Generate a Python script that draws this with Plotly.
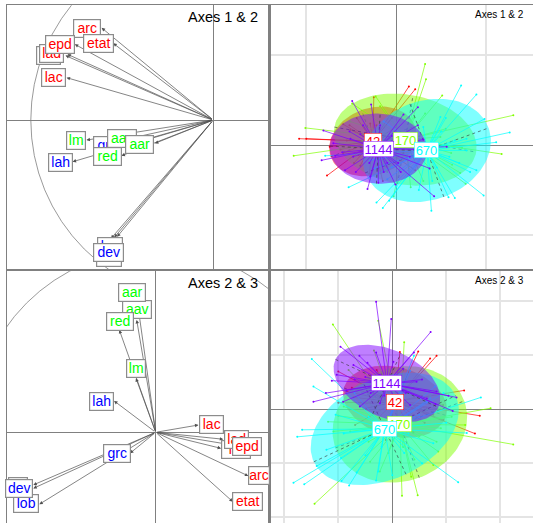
import numpy as np
import plotly.graph_objects as go

W, H = 533, 523

# ---------- variable loadings ----------
var_names = ["lob", "lon", "dev", "lah", "lm", "grc", "aav", "aar", "red", "lat", "lad", "lac", "arc", "etat", "epd"]
var_colors = ["#0000FF"] * 3 + ["#0000FF", "#00FF00", "#0000FF", "#00FF00", "#00FF00", "#00FF00"] + ["#FF0000"] * 6
var_widths = [26, 26, 31, 25, 20, 28, 30, 29, 29, 25, 25, 25, 28, 31, 30]

tip12_x = [-0.527, -0.543, -0.561, -0.771, -0.695, -0.539, -0.415, -0.320, -0.503, -0.810, -0.799, -0.804, -0.612, -0.548, -0.759]
tip12_y = [-0.640, -0.644, -0.650, -0.229, -0.110, -0.119, -0.119, -0.128, -0.196, 0.353, 0.360, 0.232, 0.505, 0.420, 0.415]
lab12_x = [-0.572, -0.567, -0.574, -0.839, -0.750, -0.581, -0.499, -0.402, -0.581, -0.901, -0.886, -0.874, -0.691, -0.631, -0.839]
lab12_y = [-0.755, -0.691, -0.728, -0.232, -0.110, -0.137, -0.101, -0.133, -0.201, 0.356, 0.366, 0.234, 0.503, 0.420, 0.415]

tip23_x = [-0.637, -0.670, -0.670, -0.228, -0.108, -0.141, -0.104, -0.100, -0.199, 0.358, 0.370, 0.234, 0.507, 0.422, 0.416]
tip23_y = [-0.394, -0.288, -0.307, 0.172, 0.296, -0.115, 0.615, 0.712, 0.560, -0.088, -0.038, 0.040, -0.239, -0.380, -0.069]
lab23_x = [-0.710, -0.752, -0.746, -0.294, -0.108, -0.214, -0.100, -0.128, -0.195, 0.440, 0.440, 0.303, 0.566, 0.504, 0.498]
lab23_y = [-0.391, -0.297, -0.310, 0.170, 0.347, -0.117, 0.670, 0.765, 0.609, -0.093, -0.042, 0.040, -0.239, -0.380, -0.075]
width23 = [26, 20, 28, 25, 20, 28, 30, 28, 28, 30, 25, 25, 22, 31, 30]

# ---------- groups ----------
groups = ["42", "170", "670", "1144"]
group_colors = ["#FF0000", "#80FF00", "#00FFFF", "#8000FF"]
group_box_widths = [17, 24, 24, 30]

cx12 = [-0.26, 0.10, 0.34, -0.20]
cy12 = [0.04, 0.06, -0.06, -0.04]
ell12_a = [0.50, 0.80, 0.73, 0.54]
ell12_b = [0.37, 0.50, 0.55, 0.39]
ell12_ang = [20, -10, 20, -3]

cx23 = [0.05, 0.14, -0.14, -0.10]
cy23 = [0.14, -0.28, -0.36, 0.48]
ell23_a = [0.98, 1.27, 1.45, 1.05]
ell23_b = [0.64, 1.05, 0.93, 0.62]
ell23_ang = [-15, 20, 25, -25]

red12_x = [-1.08, -1.00, 0.14, 0.21, -0.25, -0.77, -0.59, -0.51, -0.40, -0.15, 0.21, 0.30, -0.22, 0.00, -0.59, -0.42, -0.11, -0.29, 0.08, -0.52, -0.74, -0.33, -0.44, -0.12, -0.62, -0.35, 0.02, -0.05, -0.55, -0.30, -0.18, 0.12, -0.47, -0.38]
red12_y = [0.07, 0.07, 0.65, 0.62, 0.53, -0.34, 0.23, 0.17, -0.23, -0.40, -0.28, 0.06, 0.22, 0.20, -0.09, -0.11, -0.24, 0.24, -0.09, 0.22, -0.02, 0.13, 0.30, 0.10, -0.05, -0.05, -0.12, 0.30, 0.05, -0.32, -0.15, 0.10, -0.20, 0.05]
green12_x = [0.32, 0.33, 0.51, 1.30, 1.17, 0.77, -1.01, -1.14, -0.23, -0.49, 0.32, -0.03, 0.16, 0.49, 0.73, 0.71, -0.18, -0.51, -0.63, -0.14, 0.08, -0.29, 0.37, 0.15, 0.26, 0.61, 0.20, -0.38, 0.45, 0.00, 0.30, 0.55, -0.10, 0.05, -0.30, 0.62, 0.20, -0.02]
green12_y = [0.90, 0.73, 0.55, 0.33, -0.10, -0.43, 0.19, -0.12, 0.54, 0.46, 0.35, -0.57, -0.47, 0.09, -0.03, -0.31, 0.43, 0.26, 0.02, -0.17, -0.17, 0.15, -0.26, -0.35, -0.13, -0.09, 0.20, 0.05, -0.06, 0.25, -0.40, 0.18, -0.30, -0.05, -0.08, -0.22, 0.30, 0.15]
cyan12_x = [0.72, 0.89, 0.98, 1.26, 1.11, 0.97, 0.65, 0.58, 0.39, -0.08, -0.15, -0.22, -0.53, -0.79, 0.82, 0.89, 0.49, -0.14, -0.29, 0.00, 0.59, 0.78, 0.15, -0.24, 0.08, 0.78, 0.50, 0.30, 0.10, 0.40, 0.65, -0.05, 0.25, 0.70, 0.45, 0.15, -0.10, 0.55]
cyan12_y = [0.66, 0.56, 0.29, 0.14, 0.03, -0.56, -0.59, -0.58, -0.73, -0.62, -0.70, -0.64, -0.47, -0.12, -0.30, -0.28, 0.31, 0.26, -0.17, -0.46, -0.13, -0.06, -0.35, -0.26, -0.28, 0.07, 0.15, 0.20, -0.15, -0.40, 0.05, -0.25, -0.50, -0.20, -0.25, 0.10, -0.38, 0.30]
purple12_x = [-0.49, -0.28, -0.83, -0.68, -0.81, -0.32, 0.42, 0.24, 0.08, 0.24, 0.37, 0.56, -0.01, -0.14, -0.57, -0.70, -0.51, -0.37, -0.18, 0.15, 0.30, -0.48, 0.02, -0.29, -0.40, -0.60, -0.05, -0.30, -0.10, 0.10, -0.45, -0.25, -0.52, 0.05, -0.20, 0.20]
purple12_y = [0.49, 0.45, -0.17, -0.12, 0.16, -0.49, -0.57, 0.42, 0.34, 0.22, -0.26, -0.02, -0.44, -0.30, -0.28, 0.02, 0.07, 0.22, 0.22, -0.13, 0.06, -0.13, -0.20, -0.35, 0.12, -0.08, 0.10, -0.20, -0.20, 0.10, -0.30, 0.05, 0.15, -0.30, -0.42, -0.05]

red23_x = [0.48, 0.82, 0.70, 0.14, -1.00, 1.33, 1.62, 1.53, 0.39, -0.12, -0.69, -1.00, -0.85, -0.29, -0.72, -0.48, 0.76, 0.64, 0.39, -0.10, 0.11, 0.94, -0.40, 0.25, -0.55, 0.30, -0.25, 0.55, -0.75, 0.95, 0.05, -0.35, 0.60, 0.20]
red23_y = [1.07, 0.99, 0.94, 1.06, 0.70, 0.35, -0.12, -0.45, -0.43, -0.57, -0.29, 0.12, 0.33, 0.73, 0.22, 0.02, -0.10, 0.02, 0.39, 0.51, -0.17, 0.08, 0.50, 0.55, 0.10, -0.10, -0.15, 0.25, 0.40, -0.20, 0.45, 0.30, -0.25, 0.15]
green23_x = [-1.10, -0.26, 0.22, -0.34, -0.81, 0.12, -1.19, -1.09, -1.00, 1.82, 2.24, 1.35, 0.85, 0.76, 0.47, 0.18, -1.44, -0.41, -0.23, 0.41, -0.07, -0.44, 1.10, 0.39, 0.82, -0.78, -0.60, 0.50, -0.15, 0.90, 0.20, -0.90, 0.65, -0.50, 0.05, 0.35, 0.70, -0.30]
green23_y = [1.57, 1.64, 1.24, 1.09, 0.73, 0.70, -0.23, -0.41, -0.12, 0.02, -0.65, -0.29, -0.78, -1.03, -1.59, -1.60, -1.75, -0.97, -1.15, -0.93, -0.81, -0.60, -0.14, -0.17, -0.60, -0.41, -0.55, -0.50, -0.50, -0.35, -0.70, 0.05, 0.00, 0.15, 0.35, -1.25, 0.25, -0.25]
cyan23_x = [-1.49, -1.46, -1.67, -1.76, -1.83, -1.63, -1.40, -0.94, -0.80, -0.66, -1.22, 1.22, 1.64, 1.38, 0.79, 0.40, 0.33, 0.76, 0.22, 0.00, -0.26, -0.30, 0.64, -0.44, 0.70, 0.11, -0.90, -0.50, 0.30, 1.00, 0.50, -1.05, -0.20, -0.70, 0.20, 0.95, -0.95, 0.55]
cyan23_y = [0.93, 0.42, -0.38, -0.51, -1.36, -1.39, -1.05, -1.33, -1.41, -1.17, -0.75, -1.35, 0.22, -0.44, 0.42, 0.99, 0.71, -0.63, -0.81, -1.22, -1.15, -1.32, 0.14, -0.14, 0.20, 0.27, -0.45, -0.85, -0.45, -0.25, -0.10, -0.10, -0.70, 0.30, 0.35, 0.30, -0.90, -1.00]
purple23_x = [-0.30, -0.02, 0.71, -0.96, -0.61, -0.46, -1.12, -1.23, -1.46, -0.72, 0.02, -0.23, 1.19, 1.04, 0.82, 0.45, -0.91, -0.60, 0.64, 1.12, -0.23, 0.33, -1.03, 0.08, -0.70, 0.20, -0.40, 0.55, -0.30, 0.25, 0.00, -0.85, 0.80, -0.50, 0.40, -0.15]
purple23_y = [1.99, 1.67, 1.43, 1.16, 0.99, 0.86, 0.53, 0.30, 0.14, 0.82, 0.88, 0.64, 0.22, 0.25, 0.33, 0.51, 0.14, 0.05, 0.20, -0.03, 0.11, 0.08, 0.64, 0.14, 0.55, 0.75, 0.30, 0.55, 1.05, 0.30, 0.60, 0.35, 0.10, 0.60, 1.05, 0.25]

pts12 = [(red12_x, red12_y), (green12_x, green12_y), (cyan12_x, cyan12_y), (purple12_x, purple12_y)]
pts23 = [(red23_x, red23_y), (green23_x, green23_y), (cyan23_x, cyan23_y), (purple23_x, purple23_y)]

GRAY = "#808080"
fig = go.Figure()
annotations = []
shapes = []
layout_axes = {}


def set_panel(idx, left, right, top, bottom, ox, oy, scale, grid):
    sx = "" if idx == 1 else str(idx)
    layout_axes["xaxis" + sx] = dict(
        domain=[left / W, min(right / W, 1)],
        range=[(left - ox) / scale, (right - ox) / scale],
        anchor="y" + sx, showticklabels=False, ticks="", showline=True, mirror=True,
        linecolor=GRAY, linewidth=1.2, showgrid=grid, gridcolor="#E4E4E4", gridwidth=1.5, dtick=1,
        zeroline=True, zerolinecolor=GRAY, zerolinewidth=1, fixedrange=True)
    layout_axes["yaxis" + sx] = dict(
        domain=[1 - bottom / H, 1 - top / H],
        range=[(oy - bottom) / scale, (oy - top) / scale],
        anchor="x" + sx, showticklabels=False, ticks="", showline=True, mirror=not grid,
        linecolor=GRAY, linewidth=2.5 if grid else 1.2, showgrid=grid, gridcolor="#E4E4E4", gridwidth=1.5, dtick=1,
        zeroline=True, zerolinecolor=GRAY, zerolinewidth=1, fixedrange=True)


def var_panel(idx, tx, ty, lx, ly, widths):
    sx = "" if idx == 1 else str(idx)
    xr, yr = "x" + sx, "y" + sx
    shapes.append(dict(type="circle", xref=xr, yref=yr, x0=-1, y0=-1, x1=1, y1=1,
                       line=dict(color=GRAY, width=0.8), layer="below"))
    for a, b in zip(tx, ty):
        annotations.append(dict(x=a, y=b, ax=0, ay=0, xref=xr, yref=yr, axref=xr, ayref=yr, text="",
                                showarrow=True, arrowhead=2, arrowsize=1.0, arrowwidth=0.7, arrowcolor="#505050"))
    for name, col, a, b, w in zip(var_names, var_colors, lx, ly, widths):
        clipped = (idx == 3 and name == "arc")
        annotations.append(dict(x=a, y=b, xref=xr, yref=yr, text=name, showarrow=False,
                                font=dict(family="Liberation Sans", size=14, color=col),
                                bgcolor="white", bordercolor="#8C8C8C", borderwidth=1.2, borderpad=0,
                                width=w - 2, height=16.5, align="left" if clipped else "center"))


def group_panel(idx, pts, cx, cy, ea, eb, eang):
    sx = str(idx)
    xr, yr = "x" + sx, "y" + sx
    t = np.linspace(0, 2 * np.pi, 121)
    for g, col, (px, py), c0, c1, a, b, ang in zip(groups, group_colors, pts, cx, cy, ea, eb, eang):
        th = np.deg2rad(ang)
        ex = c0 + a * np.cos(t) * np.cos(th) - b * np.sin(t) * np.sin(th)
        ey = c1 + a * np.cos(t) * np.sin(th) + b * np.sin(t) * np.cos(th)
        fig.add_trace(go.Scatter(x=ex, y=ey, mode="lines", fill="toself", fillcolor=col, opacity=0.5,
                                 line=dict(width=0), xaxis=xr, yaxis=yr, hoverinfo="skip", showlegend=False))
        ax_x = [c0 - a * np.cos(th), c0 + a * np.cos(th), None, c0 + b * np.sin(th), c0 - b * np.sin(th)]
        ax_y = [c1 - a * np.sin(th), c1 + a * np.sin(th), None, c1 - b * np.cos(th), c1 + b * np.cos(th)]
        fig.add_trace(go.Scatter(x=ax_x, y=ax_y, mode="lines", line=dict(color="#303030", width=0.6, dash="dot"),
                                 xaxis=xr, yaxis=yr, hoverinfo="skip", showlegend=False))
        sx_, sy_ = [], []
        for u, v in zip(px, py):
            sx_ += [c0, u, None]
            sy_ += [c1, v, None]
        fig.add_trace(go.Scatter(x=sx_, y=sy_, mode="lines", line=dict(color=col, width=0.7),
                                 xaxis=xr, yaxis=yr, hoverinfo="skip", showlegend=False))
        fig.add_trace(go.Scatter(x=px, y=py, mode="markers", marker=dict(color=col, size=2),
                                 xaxis=xr, yaxis=yr, hoverinfo="skip", showlegend=False))
    for g, col, c0, c1, bw in zip(groups, group_colors, cx, cy, group_box_widths):
        annotations.append(dict(x=c0, y=c1, xref=xr, yref=yr, text=g, showarrow=False,
                                font=dict(family="Liberation Sans", size=13, color=col),
                                bgcolor="white", bordercolor=col, borderwidth=0.5, borderpad=0,
                                width=bw, height=15))


set_panel(1, 6.7, 270, 5.3, 269.3, 213.3, 120, 182.5, False)
set_panel(2, 271, 533, 5.3, 269.3, 396.3, 145, 90, True)
set_panel(3, 6.7, 270, 271, 523, 155.7, 432.3, 182.7, False)
set_panel(4, 271, 533, 271, 523, 392.3, 409.3, 54, True)

group_panel(2, pts12, cx12, cy12, ell12_a, ell12_b, ell12_ang)
group_panel(4, pts23, cx23, cy23, ell23_a, ell23_b, ell23_ang)
var_panel(1, tip12_x, tip12_y, lab12_x, lab12_y, var_widths)
var_panel(3, tip23_x, tip23_y, lab23_x, lab23_y, width23)

titles = [("Axes 1 & 2", 222.5, 17, 14.5), ("Axes 1 & 2", 499, 15, 10), ("Axes 2 & 3", 222.5, 283, 14.5), ("Axes 2 & 3", 499, 280.5, 10)]
for txt, px, py, fs in titles:
    annotations.append(dict(x=px / W, y=1 - py / H, xref="paper", yref="paper", text=txt, showarrow=False,
                            xanchor="center", yanchor="middle",
                            font=dict(family="Liberation Sans", size=fs, color="black")))

fig.update_layout(width=W, height=H, margin=dict(l=0, r=0, t=0, b=0), paper_bgcolor="white", plot_bgcolor="white",
                  showlegend=False, annotations=annotations, shapes=shapes, **layout_axes)
fig.write_html("out.html", config={"displayModeBar": False},
               post_script="document.body.style.margin='0';document.body.style.overflow='hidden';")
